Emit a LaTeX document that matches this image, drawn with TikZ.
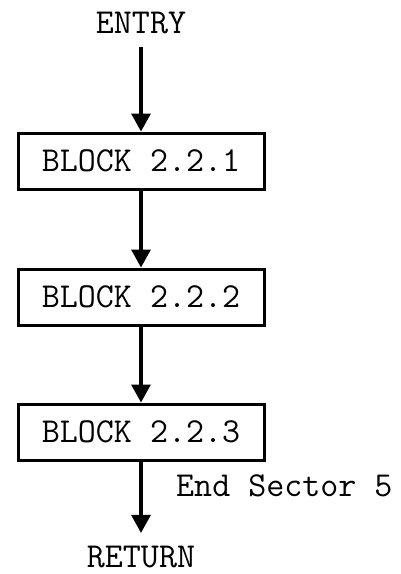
\documentclass[tikz,border=0pt]{standalone}
\usepackage{tikz}
\usetikzlibrary{arrows.meta,positioning}
\newcommand{\typed}{\ttfamily\fontsize{35}{40}\selectfont}
\tikzset{
  blk/.style={draw=black,line width=3pt,minimum width=246pt,minimum height=56pt,inner sep=0pt,font=\typed},
  term/.style={inner sep=13pt,font=\typed},
  note/.style={inner sep=0pt,font=\typed},
  arr/.style={-{Triangle[length=18pt,width=19pt]},draw=black,line width=3.2pt}
}
\begin{document}
\begin{tikzpicture}
  \useasboundingbox (0,0) rectangle (401pt,-574pt);
  \node[term] (entry) at (141pt,-23pt) {ENTRY};
  \node[blk] (b1) at (141pt,-161pt) {BLOCK 2.2.1};
  \node[blk,below=77pt of b1] (b2) {BLOCK 2.2.2};
  \node[blk,below=76pt of b2] (b3) {BLOCK 2.2.3};
  \node[term] (ret) at (141pt,-557pt) {RETURN};
  \node[note,anchor=west] (sect) at (176pt,-486pt) {End Sector 5};
  \draw[arr] (entry) -- (b1);
  \draw[arr] (b1) -- (b2);
  \draw[arr] (b2) -- (b3);
  \draw[arr] (b3) -- (ret);
\end{tikzpicture}
\end{document}
